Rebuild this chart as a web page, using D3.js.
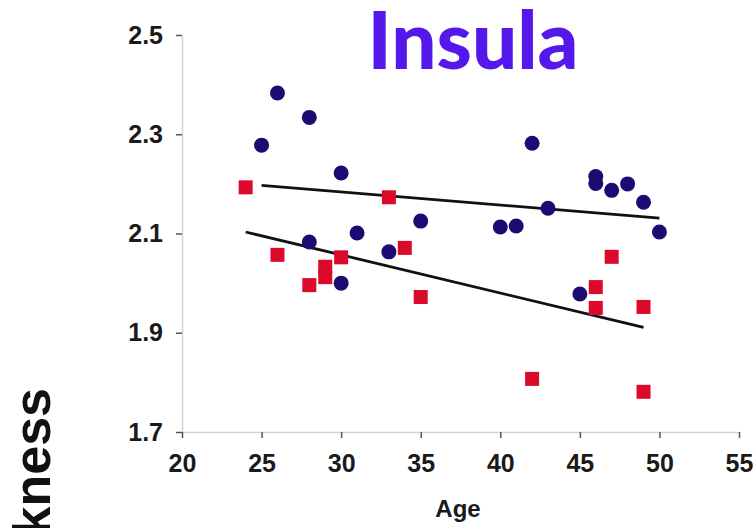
<!DOCTYPE html>
<html>
<head>
<meta charset="utf-8">
<script src="https://cdn.jsdelivr.net/npm/d3@7"></script>
<style>
  body { margin: 0; background: #fff; }
  svg { display: block; font-family: "Liberation Sans", Arial, sans-serif; }
</style>
</head>
<body>
<svg width="755" height="528"></svg>
<script>
// group 1 (circles)
const blueAge = [25, 26, 28, 28, 30, 30, 31, 33, 35, 40, 41, 42, 43, 45, 46, 46, 47, 48, 49, 50];
const blueVal = [2.278, 2.383, 2.334, 2.083, 2.222, 2.000, 2.101, 2.063, 2.125, 2.113, 2.115, 2.282, 2.151, 1.978, 2.215, 2.201, 2.187, 2.200, 2.163, 2.103];

// group 2 (squares)
const redAge = [24, 26, 28, 29, 29, 30, 33, 34, 35, 42, 46, 46, 47, 49, 49];
const redVal = [2.193, 2.057, 1.996, 2.033, 2.012, 2.052, 2.173, 2.071, 1.972, 1.807, 1.992, 1.950, 2.053, 1.952, 1.781];

// fitted lines, [age, value] at each end
const blueFit = [[25, 2.197], [50, 2.131]];
const redFit = [[24, 2.103], [49, 1.911]];

const xTicks = [20, 25, 30, 35, 40, 45, 50, 55];
const yTicks = [1.7, 1.9, 2.1, 2.3, 2.5];

let svg = d3.select('svg');

const x = d3.scaleLinear().domain([20, 55]).range([182, 739]);
const y = d3.scaleLinear().domain([1.7, 2.5]).range([432, 35]);

// axes
const yAxis = svg.append("g")
  .attr("transform", "translate(182,0)")
  .call(d3.axisLeft(y).tickValues(yTicks).tickFormat(d3.format(".1f"))
    .tickSize(6).tickSizeOuter(0).tickPadding(13));

const xAxis = svg.append("g")
  .attr("transform", "translate(0,432)")
  .call(d3.axisBottom(x).tickValues(xTicks)
    .tickSize(6).tickSizeOuter(0).tickPadding(16));

[xAxis, yAxis].forEach(g => {
  g.select(".domain").attr("stroke", "#d4d4d4").attr("stroke-width", 1.5);
  g.selectAll(".tick line").attr("stroke", "#555").attr("stroke-width", 1.5);
  g.selectAll(".tick text")
    .attr("fill", "#1a1a1a")
    .style("font-size", "25px")
    .style("font-weight", "bold")
    .style("font-family", '"Liberation Sans", Arial, sans-serif');
});

// labels
svg.append("text")
  .attr("x", 458).attr("y", 517)
  .attr("text-anchor", "middle")
  .style("font-size", "24px").style("font-weight", "bold")
  .attr("fill", "#1a1a1a")
  .text("Age");

svg.append("text")
  .attr("transform", "translate(50,388) rotate(-90)")
  .attr("text-anchor", "end")
  .style("font-size", "52px").style("font-weight", "bold")
  .attr("fill", "#111")
  .text("Thickness");

svg.append("text")
  .attr("x", 473).attr("y", 69)
  .attr("text-anchor", "middle")
  .style("font-family", "Lato, 'Open Sans', sans-serif")
  .style("font-size", "80px").style("font-weight", "900")
  .attr("fill", "#5518ea")
  .text("Insula");

// fit lines
const line = d3.line().x(d => x(d[0])).y(d => y(d[1]));
svg.selectAll("path.fit").data([blueFit, redFit])
  .enter()
  .append("path")
  .attr("class", "fit")
  .attr("d", line)
  .attr("fill", "none")
  .attr("stroke", "#111")
  .attr("stroke-width", 2.8);

// points
const sq = 14;
svg.append("g").selectAll("rect").data(redAge)
  .enter()
  .append("rect")
  .attr("x", (d) => x(d) - sq / 2)
  .attr("y", (d, i) => y(redVal[i]) - sq / 2)
  .attr("width", sq)
  .attr("height", sq)
  .attr("fill", "#dc0a2a");

svg.append("g").selectAll("circle").data(blueAge)
  .enter()
  .append("circle")
  .attr("cx", (d) => x(d))
  .attr("cy", (d, i) => y(blueVal[i]))
  .attr("r", 7.5)
  .attr("fill", "#1a0c72");
</script>
</body>
</html>
